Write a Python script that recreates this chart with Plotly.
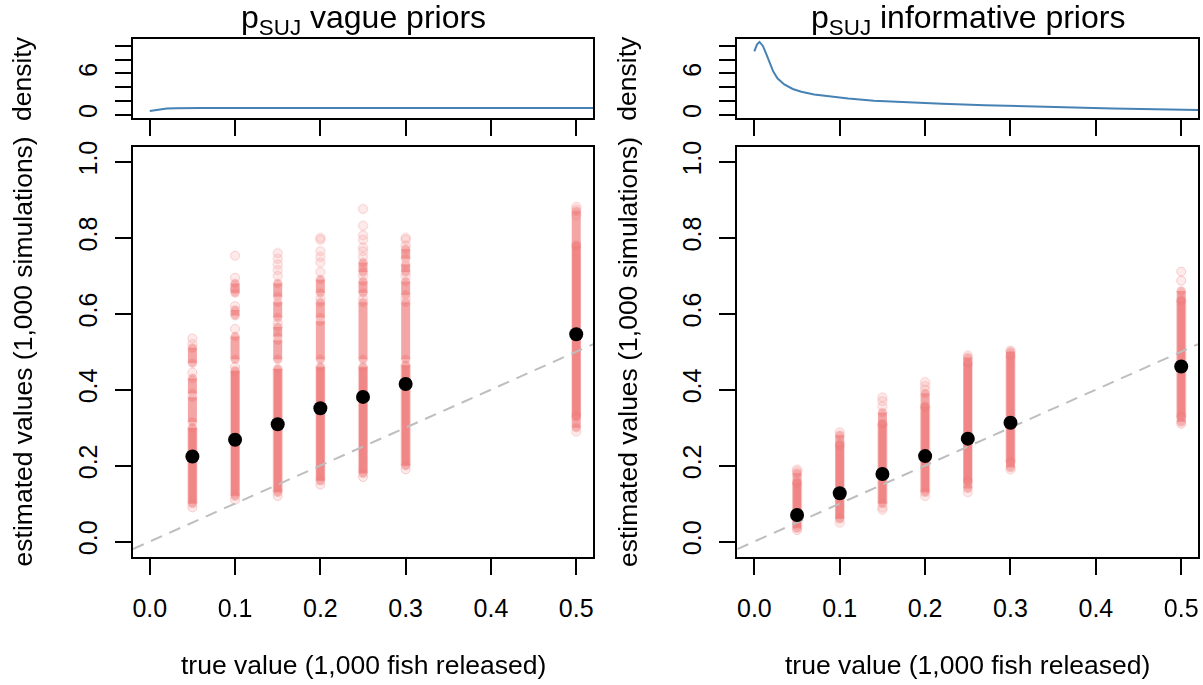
import plotly.graph_objects as go

# ---------------- data ----------------
true_vals = [0.05, 0.10, 0.15, 0.20, 0.25, 0.30, 0.50]
x_ticks = [0.0, 0.1, 0.2, 0.3, 0.4, 0.5]
x_tick_labels = ["0.0", "0.1", "0.2", "0.3", "0.4", "0.5"]
y_ticks = [0.0, 0.2, 0.4, 0.6, 0.8, 1.0]
y_tick_labels = ["0.0", "0.2", "0.4", "0.6", "0.8", "1.0"]
dens_label_ticks = [0, 6]
dens_tick_labels = ["0", "6"]
dens_tick_step = 2

# mean estimates (black dots)
vague_mean = [0.224, 0.268, 0.309, 0.351, 0.381, 0.415, 0.546]
inform_mean = [0.070, 0.127, 0.178, 0.225, 0.271, 0.313, 0.461]

# simulated estimates: dense bands (lo, hi), medium clusters and sparse points
vague_solid = [
    [(0.10, 0.30)],
    [(0.12, 0.45)],
    [(0.13, 0.455)],
    [(0.16, 0.46)],
    [(0.18, 0.46)],
    [(0.20, 0.465)],
    [(0.33, 0.78)],
]
vague_mid = [
    [(0.315, 0.38), (0.39, 0.43), (0.47, 0.51)],
    [(0.48, 0.54), (0.595, 0.61), (0.655, 0.68)],
    [(0.48, 0.53), (0.54, 0.565), (0.59, 0.63), (0.645, 0.68)],
    [(0.48, 0.58), (0.59, 0.63), (0.655, 0.69)],
    [(0.48, 0.63), (0.655, 0.685), (0.71, 0.735)],
    [(0.48, 0.63), (0.65, 0.685), (0.71, 0.73), (0.745, 0.77)],
    [(0.30, 0.33), (0.78, 0.87)],
]
vague_sparse = [
    [0.09, 0.445, 0.52, 0.535],
    [0.11, 0.46, 0.56, 0.62, 0.665, 0.695, 0.753],
    [0.12, 0.575, 0.70, 0.715, 0.73, 0.745, 0.76],
    [0.15, 0.64, 0.71, 0.735, 0.75, 0.765, 0.795, 0.80],
    [0.17, 0.64, 0.70, 0.75, 0.765, 0.775, 0.795, 0.807, 0.832, 0.876],
    [0.19, 0.64, 0.70, 0.78, 0.795, 0.80],
    [0.29, 0.86, 0.875, 0.882],
]

inform_solid = [
    [(0.035, 0.155)],
    [(0.06, 0.255)],
    [(0.10, 0.31)],
    [(0.13, 0.355)],
    [(0.16, 0.47)],
    [(0.21, 0.49)],
    [(0.33, 0.635)],
]
inform_mid = [
    [(0.155, 0.18)],
    [(0.255, 0.28)],
    [(0.31, 0.34)],
    [(0.355, 0.39)],
    [(0.14, 0.16), (0.47, 0.485)],
    [(0.195, 0.21), (0.49, 0.50)],
    [(0.315, 0.33), (0.635, 0.66)],
]
inform_sparse = [
    [0.03, 0.185, 0.19],
    [0.05, 0.288],
    [0.084, 0.09, 0.356, 0.37, 0.38],
    [0.12, 0.40, 0.41, 0.42],
    [0.13, 0.49],
    [0.19, 0.503],
    [0.31, 0.687, 0.711],
]

# prior densities
vague_dens_x = [0.0, 0.005, 0.01, 0.015, 0.02, 0.03, 0.04, 0.06, 0.10, 0.20, 0.30, 0.40, 0.50, 0.52]
vague_dens_y = [0.55, 0.66, 0.76, 0.84, 0.90, 0.95, 0.97, 0.98, 0.98, 0.98, 0.98, 0.98, 0.98, 0.98]
inform_dens_x = [0.0, 0.003, 0.006, 0.010, 0.014, 0.018, 0.022, 0.027, 0.035, 0.045, 0.055,
                 0.07, 0.09, 0.11, 0.14, 0.18, 0.22, 0.27, 0.32, 0.37, 0.42, 0.47, 0.52]
inform_dens_y = [9.2, 10.2, 10.58, 10.0, 8.8, 7.5, 6.3, 5.3, 4.4, 3.75, 3.35,
                 2.95, 2.6, 2.35, 2.05, 1.8, 1.6, 1.4, 1.22, 1.07, 0.92, 0.8, 0.68]

x_range = [-0.02, 0.52]
y_range = [-0.04, 1.04]
dens_max = max(max(vague_dens_y), max(inform_dens_y))
dens_range = [-0.04 * dens_max, 1.04 * dens_max]

titles = ["p<sub>SUJ</sub> vague priors", "p<sub>SUJ</sub> informative priors"]

# ---------------- layout geometry ----------------
W, H = 1203, 685
FONT = "Liberation Sans, Arial, sans-serif"
PINK = "#F08080"

panels = [
    dict(x0=132.7, x1=593.3),
    dict(x0=737.3, x1=1198.3),
]
top_y = (39.0, 117.7)
main_y = (146.7, 556.7)


def px_x(p):
    return p / W


def px_y(p):
    return 1 - p / H


fig = go.Figure()


def seg_xy(xv, segs):
    xs, ys = [], []
    for lo, hi in segs:
        xs += [xv, xv, None]
        ys += [lo, hi, None]
    return xs, ys


datasets = [
    (vague_solid, vague_mid, vague_sparse, vague_mean, vague_dens_x, vague_dens_y),
    (inform_solid, inform_mid, inform_sparse, inform_mean, inform_dens_x, inform_dens_y),
]

axis_common = dict(
    showline=True, linecolor="black", linewidth=2, mirror=True,
    ticks="outside", ticklen=16, tickwidth=2, tickcolor="black",
    showgrid=False, zeroline=False, automargin=False,
    tickfont=dict(family=FONT, size=25, color="black"),
)

for i, (solid, mid, sparse, mean, dx, dy) in enumerate(datasets):
    n = i * 2
    xa_top = f"x{n + 1}" if n > 0 else "x"
    ya_top = f"y{n + 1}" if n > 0 else "y"
    xa_main = f"x{n + 2}"
    ya_main = f"y{n + 2}"

    # density curve
    fig.add_trace(go.Scatter(x=dx, y=dy, mode="lines", xaxis=xa_top, yaxis=ya_top,
                             line=dict(color="#4682B4", width=2), showlegend=False,
                             hoverinfo="skip"))

    # mid clusters
    mx, my = [], []
    ex, ey = [], []
    for xv, segs in zip(true_vals, mid):
        a, b = seg_xy(xv, segs)
        mx += a
        my += b
        for lo, hi in segs:
            ex += [xv, xv]
            ey += [lo, hi]
    fig.add_trace(go.Scatter(x=mx, y=my, mode="lines", xaxis=xa_main, yaxis=ya_main,
                             line=dict(color=PINK, width=9), opacity=0.7,
                             showlegend=False, hoverinfo="skip"))
    fig.add_trace(go.Scatter(x=ex, y=ey, mode="markers", xaxis=xa_main, yaxis=ya_main,
                             marker=dict(color=PINK, size=9, line=dict(width=0)), opacity=0.55,
                             showlegend=False, hoverinfo="skip"))

    # sparse single points
    spx, spy = [], []
    for xv, pts in zip(true_vals, sparse):
        spx += [xv] * len(pts)
        spy += pts
    fig.add_trace(go.Scatter(x=spx, y=spy, mode="markers", xaxis=xa_main, yaxis=ya_main,
                             marker=dict(color="rgba(240,128,128,0.16)", size=9,
                                         line=dict(color="rgba(240,128,128,0.35)", width=1)),
                             showlegend=False, hoverinfo="skip"))

    # solid bands
    sx, sy = [], []
    cx, cy = [], []
    for xv, segs in zip(true_vals, solid):
        a, b = seg_xy(xv, segs)
        sx += a
        sy += b
        for lo, hi in segs:
            cx += [xv, xv]
            cy += [lo, hi]
    fig.add_trace(go.Scatter(x=sx, y=sy, mode="lines", xaxis=xa_main, yaxis=ya_main,
                             line=dict(color=PINK, width=9),
                             opacity=0.95, showlegend=False, hoverinfo="skip"))
    fig.add_trace(go.Scatter(x=cx, y=cy, mode="markers", xaxis=xa_main, yaxis=ya_main,
                             marker=dict(color=PINK, size=9, line=dict(width=0)), opacity=0.6,
                             showlegend=False, hoverinfo="skip"))

    # identity line
    fig.add_trace(go.Scatter(x=x_range, y=x_range, mode="lines", xaxis=xa_main, yaxis=ya_main,
                             line=dict(color="#BEBEBE", width=2, dash="12px,8px"),
                             showlegend=False, hoverinfo="skip"))

    # means
    fig.add_trace(go.Scatter(x=true_vals, y=mean, mode="markers", xaxis=xa_main, yaxis=ya_main,
                             marker=dict(color="black", size=14), showlegend=False,
                             hoverinfo="skip"))

    p = panels[i]
    dom_x = [px_x(p["x0"]), px_x(p["x1"])]
    k_top = "" if n == 0 else str(n + 1)
    k_main = str(n + 2)

    fig.layout[f"xaxis{k_top}"] = dict(
        axis_common, domain=dom_x, range=x_range, anchor=ya_top,
        tickvals=x_ticks, showticklabels=False)
    fig.layout[f"yaxis{k_top}"] = dict(
        axis_common, domain=[px_y(top_y[1]), px_y(top_y[0])], range=dens_range,
        anchor=xa_top, tickvals=dens_label_ticks, ticktext=dens_tick_labels,
        tickangle=-90, ticklabelstandoff=8,
        minor=dict(ticks="outside", ticklen=16, tickwidth=2, tickcolor="black",
                   tick0=0, dtick=dens_tick_step, showgrid=False))
    fig.layout[f"xaxis{k_main}"] = dict(
        axis_common, domain=dom_x, range=x_range, anchor=ya_main,
        tickvals=x_ticks, ticktext=x_tick_labels, ticklabelstandoff=12)
    fig.layout[f"yaxis{k_main}"] = dict(
        axis_common, domain=[px_y(main_y[1]), px_y(main_y[0])], range=y_range,
        anchor=xa_main, tickvals=y_ticks, ticktext=y_tick_labels,
        tickangle=-90, ticklabelstandoff=8)

    cx_panel = (p["x0"] + p["x1"]) / 2
    ann = [
        dict(text=titles[i], x=px_x(cx_panel), y=px_y(20), font=dict(size=32)),
        dict(text="true value (1,000 fish released)", x=px_x(cx_panel), y=px_y(665),
             font=dict(size=26.5)),
        dict(text="density", x=px_x(p["x0"] - 110), y=px_y((top_y[0] + top_y[1]) / 2),
             textangle=-90, font=dict(size=26.5)),
        dict(text="estimated values (1,000 simulations)", x=px_x(p["x0"] - 110),
             y=px_y((main_y[0] + main_y[1]) / 2), textangle=-90, font=dict(size=26.5)),
    ]
    for a in ann:
        a.update(xref="paper", yref="paper", showarrow=False, xanchor="center",
                 yanchor="middle")
        a["font"].update(family=FONT, color="black")
        fig.add_annotation(**a)

fig.update_layout(
    width=W, height=H, margin=dict(l=0, r=0, t=0, b=0, autoexpand=False),
    paper_bgcolor="white", plot_bgcolor="white",
    font=dict(family=FONT, color="black"),
)

fig.write_html(
    "out.html",
    config={"displayModeBar": False},
    post_script="document.body.style.margin='0';document.body.style.overflow='hidden';",
)
